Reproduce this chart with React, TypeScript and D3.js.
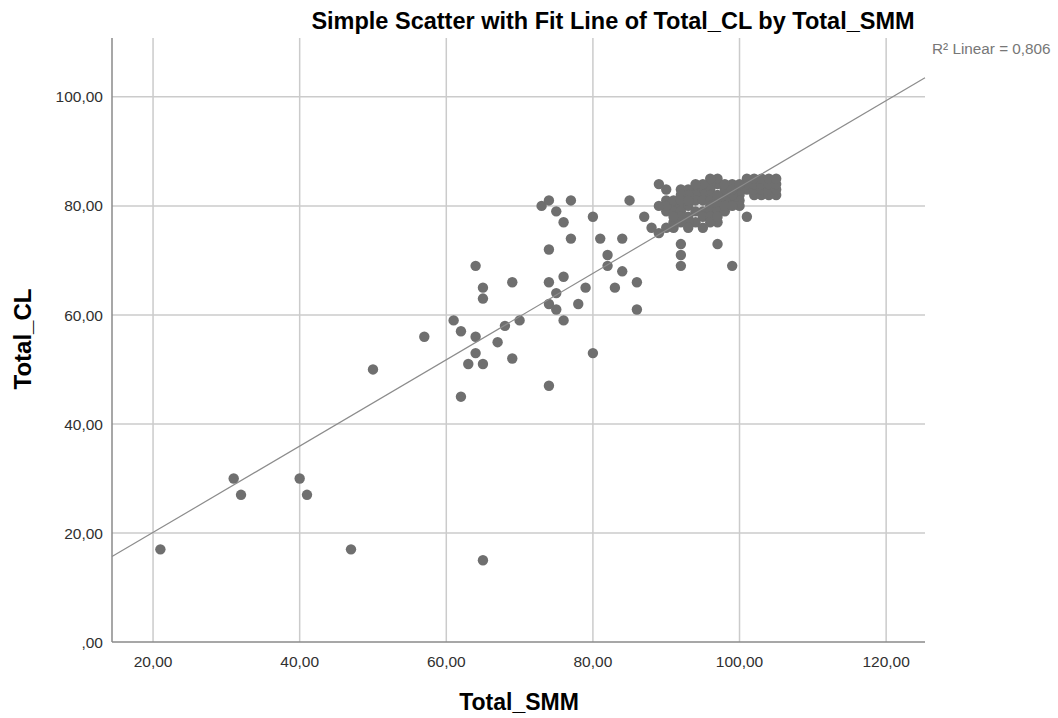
import React from "react";
import * as d3 from "d3";

const title = "Simple Scatter with Fit Line of Total_CL by Total_SMM";
const xLabel = "Total_SMM";
const yLabel = "Total_CL";
const r2Label = "R² Linear = 0,806";

const xTicks = [20, 40, 60, 80, 100, 120];
const yTicks = [0, 20, 40, 60, 80, 100];

const fitIntercept = 4.26;
const fitSlope = 0.792;

// Total_SMM values
const smm = [
  21, 31, 32, 40, 41, 47, 50, 57, 65,
  61, 62, 62, 63, 64, 65, 64, 67, 68, 70, 69, 64, 65, 65, 69, 74, 80,
  74, 76, 75, 74, 75, 76, 78, 79,
  74, 77, 76, 75, 73, 74, 77, 80, 81, 84, 82, 82, 84, 83, 86, 86, 85, 87, 88, 89, 89, 90, 92, 91, 92, 92, 92, 97, 99, 101,
  101, 101, 101, 102, 102, 102, 102, 103, 103, 103, 103, 104, 104, 104, 104, 105, 105, 105, 105,
  100, 100, 99, 100, 99, 98, 98, 99, 97, 97, 96, 95, 94, 93, 96, 96, 95, 94, 93, 92,
  94, 95, 96, 97, 98, 93, 92, 91, 90, 90, 91, 92, 94, 95, 96, 97, 98, 96, 97,
  93, 92, 95, 96, 97, 96, 94, 93, 92, 91, 95, 93, 98, 97,
  90, 91, 92, 93, 91, 96, 98, 99, 100, 97, 95, 94, 100, 98, 99, 90, 89
];
// Total_CL values
const cl = [
  17, 30, 27, 30, 27, 17, 50, 56, 15,
  59, 57, 45, 51, 53, 51, 56, 55, 58, 59, 52, 69, 65, 63, 66, 47, 53,
  66, 67, 64, 62, 61, 59, 62, 65,
  72, 74, 77, 79, 80, 81, 81, 78, 74, 74, 71, 69, 68, 65, 66, 61, 81, 78, 76, 75, 84, 83, 83, 76, 73, 71, 69, 73, 69, 78,
  83, 84, 85, 82, 83, 84, 85, 82, 83, 84, 85, 82, 83, 84, 85, 82, 83, 84, 85,
  83, 82, 81, 81, 82, 82, 83, 84, 84, 85, 84, 83, 83, 83, 83, 82, 82, 82, 82, 82,
  81, 81, 81, 81, 81, 80, 80, 80, 81, 79, 79, 79, 79, 79, 80, 80, 80, 79, 79,
  78, 78, 78, 78, 77, 77, 77, 77, 77, 77, 76, 76, 79, 78,
  80, 81, 81, 81, 78, 85, 84, 83, 84, 82, 84, 84, 80, 80, 80, 76, 80
];

const W = 1058;
const H = 718;
const left = 112;
const right = 925;
const top = 38;
const bottom = 642;

const fmt = (v: number) => {
  if (v === 0) return ",00";
  return v.toFixed(2).replace(".", ",");
};

export default function App() {
  const x = d3.scaleLinear().domain([14.4, 125.3]).range([left, right]);
  const y = d3.scaleLinear().domain([0, 110.8]).range([bottom, top]);
  const font = "Arial, 'Liberation Sans', sans-serif";
  const gridColor = "#cbcbcb";
  const axisColor = "#8a8a8a";
  const x0 = x.domain()[0];
  const x1 = x.domain()[1];
  const line = d3.line<number>().x((d) => x(d)).y((d) => y(fitIntercept + fitSlope * d));
  const pts = smm.map((v, i) => [v, cl[i]]);
  return (
    <svg width={W} height={H} style={{ position: "absolute", left: 0, top: 0, background: "#fff" }}>
      <rect width={W} height={H} fill="#fff" />
      {xTicks.map((t) => (
        <line key={"gx" + t} x1={x(t)} x2={x(t)} y1={top} y2={bottom} stroke={gridColor} strokeWidth={1.5} />
      ))}
      {yTicks.filter((t) => t > 0).map((t) => (
        <line key={"gy" + t} x1={left} x2={right} y1={y(t)} y2={y(t)} stroke={gridColor} strokeWidth={1.5} />
      ))}
      <line x1={left} x2={left} y1={top} y2={bottom} stroke={axisColor} strokeWidth={1.5} />
      <line x1={left} x2={right} y1={bottom} y2={bottom} stroke={axisColor} strokeWidth={1.5} />
      {yTicks.map((t) => (
        <text key={"ly" + t} x={left - 9} y={y(t)} dy="0.36em" textAnchor="end" fontFamily={font} fontSize={15.5} fill="#303030">
          {fmt(t)}
        </text>
      ))}
      {xTicks.map((t) => (
        <text key={"lx" + t} x={x(t)} y={bottom + 25} textAnchor="middle" fontFamily={font} fontSize={15.5} fill="#303030">
          {fmt(t)}
        </text>
      ))}
      {pts.map((p, i) => (
        <circle key={"p" + i} cx={x(p[0])} cy={y(p[1])} r={5.2} fill="#6f6f6f" />
      ))}
      <path d={line([x0, x1]) || ""} fill="none" stroke="#8c8c8c" strokeWidth={1.2} />
      <text x={613} y={29} textAnchor="middle" fontFamily={font} fontWeight="bold" fontSize={23.5} fill="#000">
        {title}
      </text>
      <text x={519} y={710} textAnchor="middle" fontFamily={font} fontWeight="bold" fontSize={23} fill="#000">
        {xLabel}
      </text>
      <text transform={`translate(31,${339}) rotate(-90)`} textAnchor="middle" fontFamily={font} fontWeight="bold" fontSize={24} fill="#000">
        {yLabel}
      </text>
      <text x={932} y={54} fontFamily={font} fontSize={15.3} fill="#777">
        {r2Label}
      </text>
    </svg>
  );
}
